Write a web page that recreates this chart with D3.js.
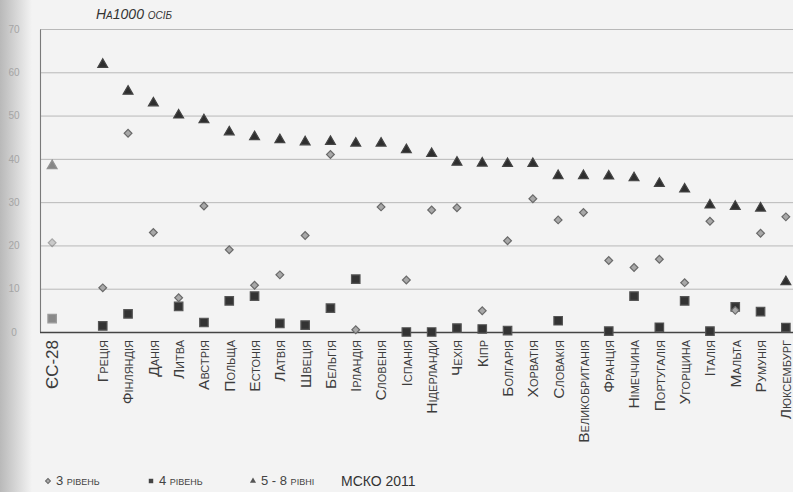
<!DOCTYPE html>
<html><head><meta charset="utf-8">
<script src="https://cdn.jsdelivr.net/npm/d3@7"></script>
<style>
html,body{margin:0;padding:0;background:#f3f3f3;}
svg{display:block;font-family:"Liberation Sans",Arial,sans-serif;}
</style></head>
<body>
<svg id="chart" width="793" height="492"></svg>
<script>
const categories = ["ЄС-28", "", "Греція", "Фінляндія", "Данія", "Литва", "Австрія", "Польща", "Естонія", "Латвія", "Швеція", "Бельгія", "Ірландія", "Словенія", "Іспанія", "Нідерланди", "Чехія", "Кіпр", "Болгарія", "Хорватія", "Словакія", "Великобританія", "Франція", "Німеччина", "Португалія", "Угорщина", "Італія", "Мальта", "Румунія", "Люксембург"];
const level3 = [20.6, null, 10.2, 45.9, 23.0, 7.9, 29.1, 19.0, 10.8, 13.2, 22.3, 41.0, 0.5, 28.9, 12.0, 28.2, 28.7, 4.9, 21.1, 30.8, 25.9, 27.6, 16.5, 14.9, 16.8, 11.4, 25.6, 5.0, 22.8, 26.6];
const level4 = [3.1, null, 1.4, 4.2, null, 5.9, 2.2, 7.2, 8.3, 2.0, 1.6, 5.5, 12.2, null, 0, 0, 0.9, 0.7, 0.3, null, 2.6, null, 0.2, 8.3, 1.1, 7.2, 0.2, 5.8, 4.7, 1.0];
const level58 = [38.4, null, 61.8, 55.6, 52.9, 50.1, 49.0, 46.2, 45.1, 44.4, 43.9, 44.0, 43.6, 43.6, 42.1, 41.2, 39.2, 39.0, 38.9, 38.9, 36.1, 36.1, 36.0, 35.6, 34.3, 33.0, 29.3, 29.0, 28.6, 11.6];
const yTicks = [0, 10, 20, 30, 40, 50, 60, 70];
const yTitle = "На1000 осіб";
const legendLabels = ["3 рівень", "4 рівень", "5 - 8 рівні", "МСКО 2011"];

const svg = d3.select("#chart");
const defs = svg.append("defs");
const grad = defs.append("linearGradient").attr("id","lg").attr("x1","0").attr("x2","1");
grad.append("stop").attr("offset","0").attr("stop-color","#b9b9b9");
grad.append("stop").attr("offset","1").attr("stop-color","#f3f3f3");
svg.append("rect").attr("x",0).attr("y",0).attr("width",32).attr("height",492).attr("fill","url(#lg)");

const idx = categories.map((d,i)=>i);
const x = d3.scaleBand().domain(idx).range([39.5, 39.5 + 30*25.3]).padding(0);
const y = d3.scaleLinear().domain([0,70]).range([332, 29]);
const cx = i => x(i) + x.bandwidth()/2;

// gridlines
svg.append("g")
  .attr("transform","translate(40,0)")
  .call(d3.axisLeft(y).tickValues(yTicks.filter(t=>t>0)).tickSize(-760).tickFormat(""))
  .call(g=>g.select(".domain").remove())
  .call(g=>g.selectAll("line").attr("stroke","#b8b8b8").attr("stroke-width",1));

// y tick labels
svg.append("g")
  .attr("transform","translate(40,0)")
  .call(d3.axisLeft(y).tickValues(yTicks).tickSize(0).tickPadding(26).tickFormat(d3.format("d")))
  .call(g=>g.select(".domain").attr("stroke","#7a7a7a").attr("stroke-width",1.1))
  .call(g=>g.selectAll("text").attr("fill","#a5a5a5").attr("font-size",10).attr("text-anchor","middle"));

// x axis
svg.append("g")
  .attr("transform","translate(0,332)")
  .call(d3.axisBottom(x).tickSize(0).tickFormat(i=>categories[i]))
  .call(g=>g.select(".domain").attr("stroke","#444").attr("stroke-width",1.6))
  .call(g=>g.selectAll("text")
    .attr("transform","rotate(-90)")
    .attr("text-anchor","end")
    .attr("x",-8).attr("y",0).attr("dy","0.35em")
    .attr("font-size",15.5).attr("fill","#3c3c3c")
    .style("font-variant","small-caps"));
svg.selectAll(".tick text").filter(function(){return this.textContent==="ЄС-28";}).attr("font-size",17).style("font-variant","normal");

// title
svg.append("text").attr("x",96).attr("y",19).text(yTitle)
  .attr("font-size",14).attr("font-style","italic").attr("fill","#333").style("font-variant","small-caps");

const sym4 = d3.symbol().type(d3.symbolSquare).size(72);
const sym5 = d3.symbol().type(d3.symbolTriangle).size(42);

function plot(vals, sym, fill, stroke, rot){
  svg.append("g").selectAll("path")
    .data(vals.map((v,i)=>({v,i})).filter(d=>d.v!==null))
    .join("path")
    .attr("d", sym)
    .attr("transform", d=>`translate(${cx(d.i)},${y(d.v)}) rotate(${rot})`)
    .attr("fill", fill).attr("stroke", stroke).attr("stroke-width",1.2)
    .attr("opacity", d=>d.i===0?0.55:1);
}
plot(level58, sym5, "#2e2e2e", "#444", 0);
plot(level4, sym4, "#333", "#555", 0);
plot(level3, d3.symbol().type(d3.symbolSquare).size(30), "#a8a8a8", "#6a6a6a", 45);

// legend
const lg = svg.append("g");
lg.append("path").attr("d", d3.symbol().type(d3.symbolSquare).size(12)).attr("transform","translate(48,481) rotate(45)").attr("fill","#aaa").attr("stroke","#666");
lg.append("text").attr("x",56).attr("y",485).text(legendLabels[0]).attr("font-size",13).attr("fill","#444").style("font-variant","small-caps");
lg.append("path").attr("d", d3.symbol().type(d3.symbolSquare).size(20)).attr("transform","translate(151,481)").attr("fill","#444");
lg.append("text").attr("x",159).attr("y",485).text(legendLabels[1]).attr("font-size",13).attr("fill","#444").style("font-variant","small-caps");
lg.append("path").attr("d", d3.symbol().type(d3.symbolTriangle).size(16)).attr("transform","translate(253,481)").attr("fill","#555");
lg.append("text").attr("x",261).attr("y",485).text(legendLabels[2]).attr("font-size",13).attr("fill","#444").style("font-variant","small-caps");
lg.append("text").attr("x",341).attr("y",486).text(legendLabels[3]).attr("font-size",14).attr("fill","#333");
</script>
</body></html>
